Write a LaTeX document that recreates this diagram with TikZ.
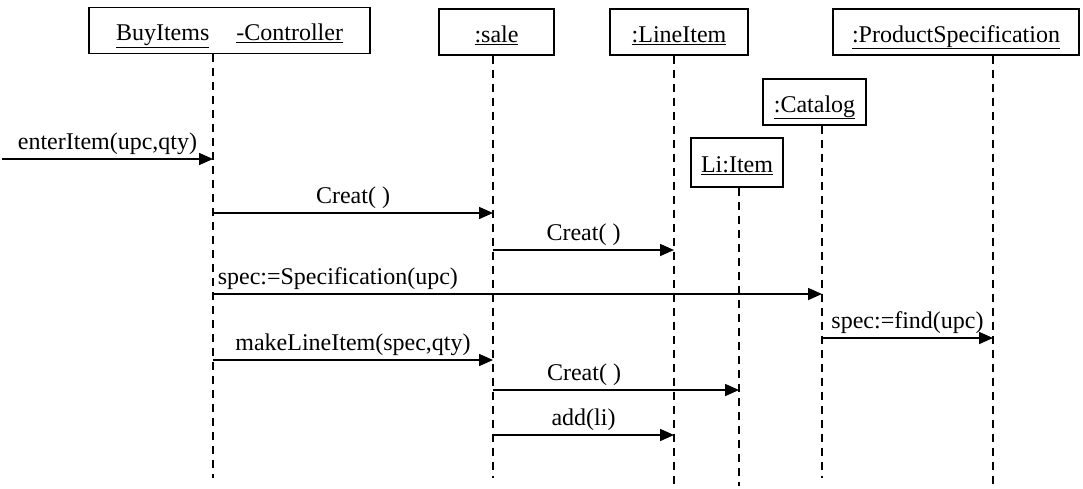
\documentclass[tikz,border=0pt]{standalone}
\usepackage{fontspec}
\setmainfont{Liberation Serif}
\usetikzlibrary{arrows.meta}

\tikzset{
	obj/.style = {draw, line width = 1.4pt, minimum height = 46pt, inner sep = 0pt, text height = 20pt, text depth = 0pt},
	life/.style = {line width = 1.3pt, dash pattern = on 8pt off 6pt},
	msg/.style = {line width = 1.6pt, -{Triangle[length = 14pt, width = 12pt]}},
	lbl/.style = {above}
}

\begin{document}
\begin{tikzpicture}[x = 1pt, y = -1pt, font = \fontsize{24}{28}\selectfont]
	%	frame
	\useasboundingbox (0, 0) rectangle (1083, 488);
	
	%	objects
	\node[obj, minimum width = 281pt] (ctrl) at (229.5, 30.5) {\underline{BuyItems}\hspace{27pt}\underline{-Controller}};
	\node[obj, minimum width = 115pt] (sale) at (496.5, 32) {\underline{:sale}};
	\node[obj, minimum width = 138pt] (line) at (679, 32) {\underline{:LineItem}};
	\node[obj, minimum width = 246pt] (spec) at (956, 32) {\underline{:ProductSpecification}};
	\node[obj, minimum width = 103pt] (cat) at (814.5, 102) {\underline{:Catalog}};
	\node[obj, minimum width = 92pt, minimum height = 49pt] (li) at (737, 162.5) {\underline{Li:Item}};
	
	%	lifelines
	\coordinate (ctrl end) at (213, 478);
	\coordinate (sale end) at (493, 478);
	\coordinate (line end) at (674, 486);
	\coordinate (li end) at (739, 486);
	\coordinate (cat end) at (822, 478);
	\coordinate (spec end) at (993, 486);
	\foreach \o in {ctrl, sale, line, li, cat, spec}
		\draw[life] (\o.south -| \o\space end) -- (\o\space end);
	
	%	messages
	\coordinate (actor) at (2, 159);
	\draw[msg] (actor) -- (ctrl end |- actor) node[lbl, midway]{enterItem(upc,qty)};
	\draw[msg] (ctrl end |- 0, 213) -- (sale end |- 0, 213) node[lbl, midway]{Creat( )};
	\draw[msg] (sale end |- 0, 250) -- (line end |- 0, 250) node[lbl, midway]{Creat( )};
	\draw[msg] (ctrl end |- 0, 294) -- (cat end |- 0, 294) node[lbl, pos = 0.205]{spec:=Specification(upc)};
	\draw[msg] (cat end |- 0, 338) -- (spec end |- 0, 338) node[lbl, midway]{spec:=find(upc)};
	\draw[msg] (ctrl end |- 0, 360) -- (sale end |- 0, 360) node[lbl, midway]{makeLineItem(spec,qty)};
	\draw[msg] (sale end |- 0, 390) -- (li end |- 0, 390) node[lbl, pos = 0.37]{Creat( )};
	\draw[msg] (sale end |- 0, 435) -- (line end |- 0, 435) node[lbl, midway]{add(li)};
\end{tikzpicture}
\end{document}
